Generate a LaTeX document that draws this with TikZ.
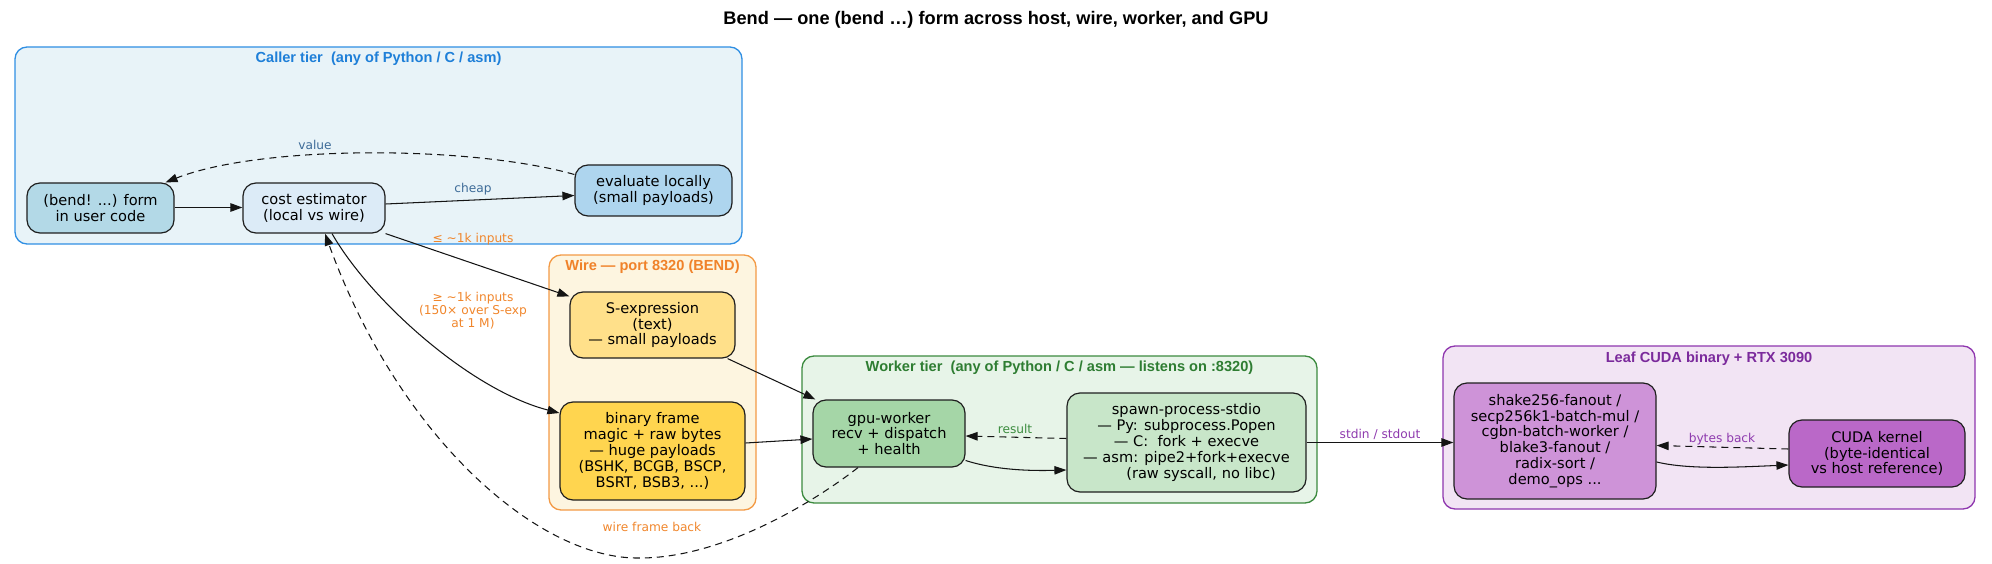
\documentclass[tikz,border=0pt]{standalone}
\usepackage{fontspec}
\setmainfont{DejaVu Sans}
\newfontfamily\hfont{Liberation Sans}
\usetikzlibrary{arrows.meta,calc}

\definecolor{callerfill}{HTML}{E8F3F8}
\definecolor{callerline}{HTML}{2F8FE3}
\definecolor{callertext}{HTML}{1E7FD8}
\definecolor{wirefill}{HTML}{FDF5E0}
\definecolor{wireline}{HTML}{F39A45}
\definecolor{wiretext}{HTML}{F0822A}
\definecolor{workfill}{HTML}{E7F4E8}
\definecolor{workline}{HTML}{3B8A3E}
\definecolor{worktext}{HTML}{2E7D32}
\definecolor{leaffill}{HTML}{F2E4F4}
\definecolor{leafline}{HTML}{8E35AE}
\definecolor{leaftext}{HTML}{7B2A9C}
\definecolor{bendfill}{HTML}{B3D9E7}
\definecolor{costfill}{HTML}{DCEBF7}
\definecolor{evalfill}{HTML}{AED5EE}
\definecolor{sexpfill}{HTML}{FFE08A}
\definecolor{binfill}{HTML}{FFD54F}
\definecolor{gpufill}{HTML}{A5D6A7}
\definecolor{spawnfill}{HTML}{C8E6C9}
\definecolor{shakefill}{HTML}{CE93D8}
\definecolor{cudafill}{HTML}{BA68C8}
\definecolor{bluelbl}{HTML}{3D6B98}
\definecolor{orangelbl}{HTML}{F0862C}
\definecolor{greenlbl}{HTML}{3C8C3F}
\definecolor{purplelbl}{HTML}{8E3AAE}

\tikzset{
  nbox/.style={draw=black!88, line width=1.2pt, rounded corners=13pt, align=center,
    inner sep=0pt, font=\fontsize{14.6}{15.8}\selectfont},
  clus/.style={line width=1.3pt, rounded corners=12pt},
  clbl/.style={font=\hfont\bfseries\fontsize{14.6}{16}\selectfont, inner sep=0pt, anchor=center},
  lbl/.style={font=\fontsize{12.2}{13.3}\selectfont, align=center, inner sep=0pt},
  conn/.style={line width=1.05pt, draw=black!92, -{Triangle[length=12pt,width=8.5pt]}},
  dconn/.style={conn, dash pattern=on 7pt off 5pt},
}

\begin{document}
\begin{tikzpicture}[x=1pt,y=-1pt]
\useasboundingbox (0,0) rectangle (1992,564);

% title
\node[font=\hfont\bfseries\fontsize{18.2}{20}\selectfont, inner sep=0pt] (title) at (996,20)
  {Bend — one (bend …) form across host, wire, worker, and GPU};

% clusters
\draw[clus, draw=callerline, fill=callerfill] (15,47) rectangle (742,244);
\node[clbl, text=callertext] (callerlbl) at (378.5,59) {Caller tier\ \ (any of Python / C / asm)};
\draw[clus, draw=wireline, fill=wirefill] (549,255) rectangle (756,510);
\node[clbl, text=wiretext] (wirelbl) at (652.5,267) {Wire — port 8320 (BEND)};
\draw[clus, draw=workline, fill=workfill] (802,356) rectangle (1317,503);
\node[clbl, text=worktext] (worklbl) at (1059.5,368) {Worker tier\ \ (any of Python / C / asm — listens on :8320)};
\draw[clus, draw=leafline, fill=leaffill] (1443,346) rectangle (1975,509);
\node[clbl, text=leaftext] (leaflbl) at (1709,359) {Leaf CUDA binary + RTX 3090};

% nodes
\node[nbox, fill=bendfill, minimum width=147pt, minimum height=50pt] (bend) at (100.5,208)
  {(bend! ...) form\\in user code};
\node[nbox, fill=costfill, minimum width=142pt, minimum height=50pt] (cost) at (314,208)
  {cost estimator\\(local vs wire)};
\node[nbox, fill=evalfill, minimum width=157pt, minimum height=51pt] (eval) at (653.5,190.5)
  {evaluate locally\\(small payloads)};
\node[nbox, fill=sexpfill, minimum width=165pt, minimum height=66pt] (sexp) at (652.5,325)
  {S-expression\\(text)\\— small payloads};
\node[nbox, fill=binfill, minimum width=185pt, minimum height=98pt] (bin) at (652.5,451)
  {binary frame\\magic + raw bytes\\— huge payloads\\(BSHK, BCGB, BSCP,\\BSRT, BSB3, ...)};
\node[nbox, fill=gpufill, minimum width=152pt, minimum height=67pt] (gpu) at (889,433.5)
  {gpu-worker\\recv + dispatch\\+ health};
\node[nbox, fill=spawnfill, minimum width=239pt, minimum height=99pt] (spawn) at (1186.5,442.5)
  {spawn-process-stdio\\— Py: subprocess.Popen\\— C:\ \ fork + execve\\— asm: pipe2+fork+execve\\\hspace*{29pt}(raw syscall, no libc)};
\node[nbox, fill=shakefill, minimum width=202pt, minimum height=116pt] (shake) at (1555,441)
  {shake256-fanout /\\secp256k1-batch-mul /\\cgbn-batch-worker /\\blake3-fanout /\\radix-sort /\\demo\_ops ...};
\node[nbox, fill=cudafill, minimum width=176pt, minimum height=67pt] (cuda) at (1877,453.5)
  {CUDA kernel\\(byte-identical\\vs host reference)};

% edges
\draw[conn] ([yshift=0.5pt]bend.east) -- ([yshift=0.5pt]cost.west);
\draw[conn] ([yshift=4pt]cost.east) -- ([yshift=-5pt]eval.west);
\node[lbl, text=bluelbl] (cheaplbl) at (473,189) {cheap};
\draw[dconn] ([yshift=16pt]eval.west) .. controls (470,145) and (260,145) .. ([xshift=65pt]bend.north);
\node[lbl, text=bluelbl] (valuelbl) at (315,145) {value};
\draw[conn] (cost.south east) -- ([yshift=-5pt]sexp.north west);
\node[lbl, text=orangelbl] (lelbl) at (473,239) {≤ {\char"7E}1k inputs};
\draw[conn] ([xshift=18pt]cost.south) .. controls (370,300) and (470,390) .. ([yshift=38pt]bin.west);
\node[lbl, text=orangelbl] (gelbl) at (473,310.5) {≥ {\char"7E}1k inputs\\(150× over S-exp\\at 1 M)};
\draw[conn] ([xshift=-8pt]sexp.south east) -- ([xshift=3pt]gpu.north west);
\draw[conn] ([yshift=8pt]bin.east) -- ([yshift=-5.5pt]gpu.west);
\draw[conn] ([yshift=-27pt]gpu.east) .. controls (995,470) and (1030,471) .. ([yshift=-27.5pt]spawn.west);
\draw[dconn] ([yshift=4pt]spawn.west) -- ([yshift=-2.5pt]gpu.east);
\node[lbl, text=greenlbl] (resultlbl) at (1015,429) {result};
\draw[dconn] ([xshift=-31pt]gpu.south) .. controls (810,505) and (720,558) .. (640,558)
  .. controls (540,560) and (400,440) .. ([xshift=11pt]cost.south);
\node[lbl, text=orangelbl] (backlbl) at (652,527) {wire frame back};
\draw[conn] (spawn.east) -- (spawn.east -| shake.west);
\node[lbl, text=purplelbl] (stdlbl) at (1380,434) {stdin / stdout};
\draw[conn] ([yshift=-21pt]shake.east) .. controls (1690,470) and (1740,467) .. ([yshift=-11.5pt]cuda.west);
\draw[dconn] ([yshift=4.5pt]cuda.west) -- ([yshift=-4.5pt]shake.east);
\node[lbl, text=purplelbl] (byteslbl) at (1722,439) {bytes back};
\end{tikzpicture}
\end{document}
